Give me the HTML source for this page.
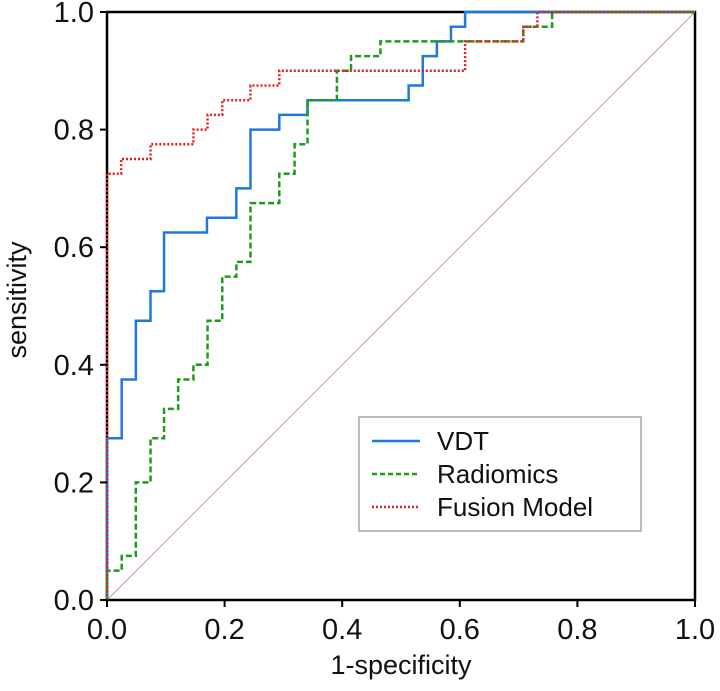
<!DOCTYPE html>
<html><head><meta charset="utf-8"><style>
html,body{margin:0;padding:0;background:#fff;}
svg{display:block;font-family:"Liberation Sans",Arial,sans-serif;}
</style></head><body>
<svg id="chart" width="720" height="691" viewBox="0 0 720 691">
<line x1="107" y1="600" x2="695" y2="12" stroke="#c9a0a0" stroke-width="1"/>
<rect x="107" y="12" width="588" height="588" fill="none" stroke="#000" stroke-width="2.5"/>
<g id="series"></g>
<g id="axes"></g>
<text x="401" y="674" font-size="27" text-anchor="middle" fill="#111">1-specificity</text>
<text transform="translate(26,300) rotate(-90)" font-size="27" text-anchor="middle" fill="#111">sensitivity</text>
<g>
<rect x="359" y="417" width="282" height="114" fill="#fff" stroke="#bbb" stroke-width="2"/>
<line x1="372" y1="441" x2="420" y2="441" stroke="#1f78e0" stroke-width="2.4"/>
<text x="437" y="450" font-size="26" fill="#111">VDT</text>
<line x1="372" y1="474" x2="420" y2="474" stroke="#1e9a1e" stroke-width="2.4" stroke-dasharray="5,3"/>
<text x="437" y="483" font-size="26" fill="#111">Radiomics</text>
<line x1="372" y1="507" x2="420" y2="507" stroke="#e02020" stroke-width="2.4" stroke-dasharray="2,2"/>
<text x="437" y="516" font-size="26" fill="#111">Fusion Model</text>
</g>
</svg>
<script>
const ticks = [0, 0.2, 0.4, 0.6, 0.8, 1.0];
const tickLabels = ["0.0", "0.2", "0.4", "0.6", "0.8", "1.0"];
const vdtFpr = [0, 0, 0.025, 0.025, 0.049, 0.049, 0.074, 0.074, 0.097, 0.097, 0.17, 0.17, 0.22, 0.22, 0.244, 0.244, 0.293, 0.293, 0.341, 0.341, 0.513, 0.513, 0.537, 0.537, 0.561, 0.561, 0.585, 0.585, 0.609, 0.609, 1];
const vdtTpr = [0, 0.275, 0.275, 0.375, 0.375, 0.475, 0.475, 0.525, 0.525, 0.625, 0.625, 0.65, 0.65, 0.7, 0.7, 0.8, 0.8, 0.825, 0.825, 0.85, 0.85, 0.875, 0.875, 0.925, 0.925, 0.95, 0.95, 0.975, 0.975, 1, 1];
const radFpr = [0, 0, 0.025, 0.025, 0.049, 0.049, 0.074, 0.074, 0.097, 0.097, 0.121, 0.121, 0.147, 0.147, 0.171, 0.171, 0.196, 0.196, 0.22, 0.22, 0.244, 0.244, 0.293, 0.293, 0.319, 0.319, 0.341, 0.341, 0.391, 0.391, 0.415, 0.415, 0.465, 0.465, 0.708, 0.708, 0.757, 0.757, 1];
const radTpr = [0, 0.05, 0.05, 0.075, 0.075, 0.2, 0.2, 0.275, 0.275, 0.325, 0.325, 0.375, 0.375, 0.4, 0.4, 0.475, 0.475, 0.55, 0.55, 0.575, 0.575, 0.675, 0.675, 0.725, 0.725, 0.775, 0.775, 0.85, 0.85, 0.9, 0.9, 0.925, 0.925, 0.95, 0.95, 0.975, 0.975, 1, 1];
const fusFpr = [0, 0, 0.024, 0.024, 0.074, 0.074, 0.147, 0.147, 0.171, 0.171, 0.196, 0.196, 0.244, 0.244, 0.293, 0.293, 0.609, 0.609, 0.708, 0.708, 0.732, 0.732, 1];
const fusTpr = [0, 0.725, 0.725, 0.75, 0.75, 0.775, 0.775, 0.8, 0.8, 0.825, 0.825, 0.85, 0.85, 0.875, 0.875, 0.9, 0.9, 0.95, 0.95, 0.975, 0.975, 1, 1];

const NS = "http://www.w3.org/2000/svg";
const X0 = 107, X1 = 695, Y0 = 600, Y1 = 12;
function sx(v){ return X0 + v * (X1 - X0); }
function sy(v){ return Y0 - v * (Y0 - Y1); }

const axes = document.getElementById('axes');
ticks.forEach((t, i) => {
  const xt = document.createElementNS(NS, 'line');
  xt.setAttribute('x1', sx(t)); xt.setAttribute('x2', sx(t));
  xt.setAttribute('y1', Y0); xt.setAttribute('y2', Y0 + 7);
  xt.setAttribute('stroke', '#000'); xt.setAttribute('stroke-width', '2');
  
  
  axes.appendChild(xt);
  const xl = document.createElementNS(NS, 'text');
  xl.setAttribute('x', sx(t)); xl.setAttribute('y', 639);
  xl.setAttribute('font-size', '29'); xl.setAttribute('text-anchor', 'middle'); xl.setAttribute('fill', '#111');
  xl.textContent = tickLabels[i];
  
  
  axes.appendChild(xl);
  const yt = document.createElementNS(NS, 'line');
  yt.setAttribute('x1', X0 - 7); yt.setAttribute('x2', X0);
  yt.setAttribute('y1', sy(t)); yt.setAttribute('y2', sy(t));
  yt.setAttribute('stroke', '#000'); yt.setAttribute('stroke-width', '2');
  
  
  axes.appendChild(yt);
  const yl = document.createElementNS(NS, 'text');
  yl.setAttribute('x', 94); yl.setAttribute('y', sy(t) + 10);
  yl.setAttribute('font-size', '29'); yl.setAttribute('text-anchor', 'end'); yl.setAttribute('fill', '#111');
  yl.textContent = tickLabels[i];
  
  
  axes.appendChild(yl);
});

const series = document.getElementById('series');
function drawCurve(xs, ys, color, dash, name){
  const p = document.createElementNS(NS, 'polyline');
  p.setAttribute('points', xs.map((x, i) => sx(x) + ',' + sy(ys[i])).join(' '));
  p.setAttribute('fill', 'none');
  p.setAttribute('stroke', color);
  p.setAttribute('stroke-width', '2.5');
  if (dash) p.setAttribute('stroke-dasharray', dash);
  
  
  series.appendChild(p);
}
drawCurve(vdtFpr, vdtTpr, '#1f78e0', null, 'vdt-curve');
drawCurve(radFpr, radTpr, '#1e9a1e', '6,3', 'radiomics-curve');
drawCurve(fusFpr, fusTpr, '#e02020', '2,2', 'fusion-model-curve');
</script>
</body></html>
